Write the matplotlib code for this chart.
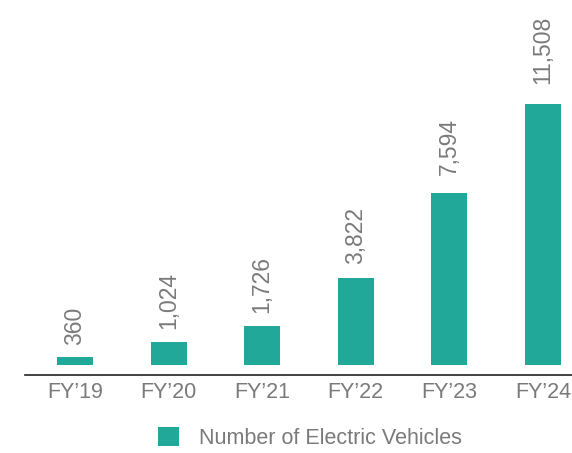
import matplotlib
matplotlib.use("Agg")
import matplotlib.pyplot as plt

categories = ["FY\u201919", "FY\u201920", "FY\u201921", "FY\u201922", "FY\u201923", "FY\u201924"]
values = [360, 1024, 1726, 3822, 7594, 11508]
labels = ["360", "1,024", "1,726", "3,822", "7,594", "11,508"]
series_name = "Number of Electric Vehicles"

BAR = "#21a899"
TXT = "#7a7a7a"
FONT = ["Liberation Sans", "DejaVu Sans"]

W, H = 572, 453
fig = plt.figure(figsize=(W / 100, H / 100), dpi=100)
left, right, bottom, top = 25, 572, 88, 453
ax = fig.add_axes([left / W, bottom / H, (right - left) / W, (top - bottom) / H])

x = list(range(len(categories)))
bars = ax.bar(x, values, width=0.385, color=BAR, label=series_name)
ax.set_xlim(-0.534, 5.31)
ax.set_ylim(0, 16094)

vmax = max(values)
for xi, v, lab in zip(x, values, labels):
    gap_px = 12 + 8 * v / vmax
    ax.annotate(lab, (xi, v), xytext=(0, gap_px * 0.72), textcoords="offset points",
                rotation=90, ha="center", va="bottom", fontsize=16.5,
                color=TXT, family=FONT)

for s in ["top", "right", "left"]:
    ax.spines[s].set_visible(False)
ax.spines["bottom"].set_position(("outward", 7))
ax.spines["bottom"].set_color("#222222")
ax.spines["bottom"].set_linewidth(1.2)
ax.set_yticks([])
ax.set_xticks(x)
ax.set_xticklabels(categories, fontsize=15.5, color=TXT, family=FONT)
ax.tick_params(axis="x", length=0, pad=5)

leg = fig.legend(handles=[bars], labels=[series_name], loc="center",
                 bbox_to_anchor=(310 / W, 1 - 438 / H), frameon=False,
                 handlelength=0.98, handleheight=0.93, handletextpad=0.93,
                 prop={"family": FONT, "size": 15.5})
for t in leg.get_texts():
    t.set_color(TXT)

fig.savefig("out.png", dpi=100)
